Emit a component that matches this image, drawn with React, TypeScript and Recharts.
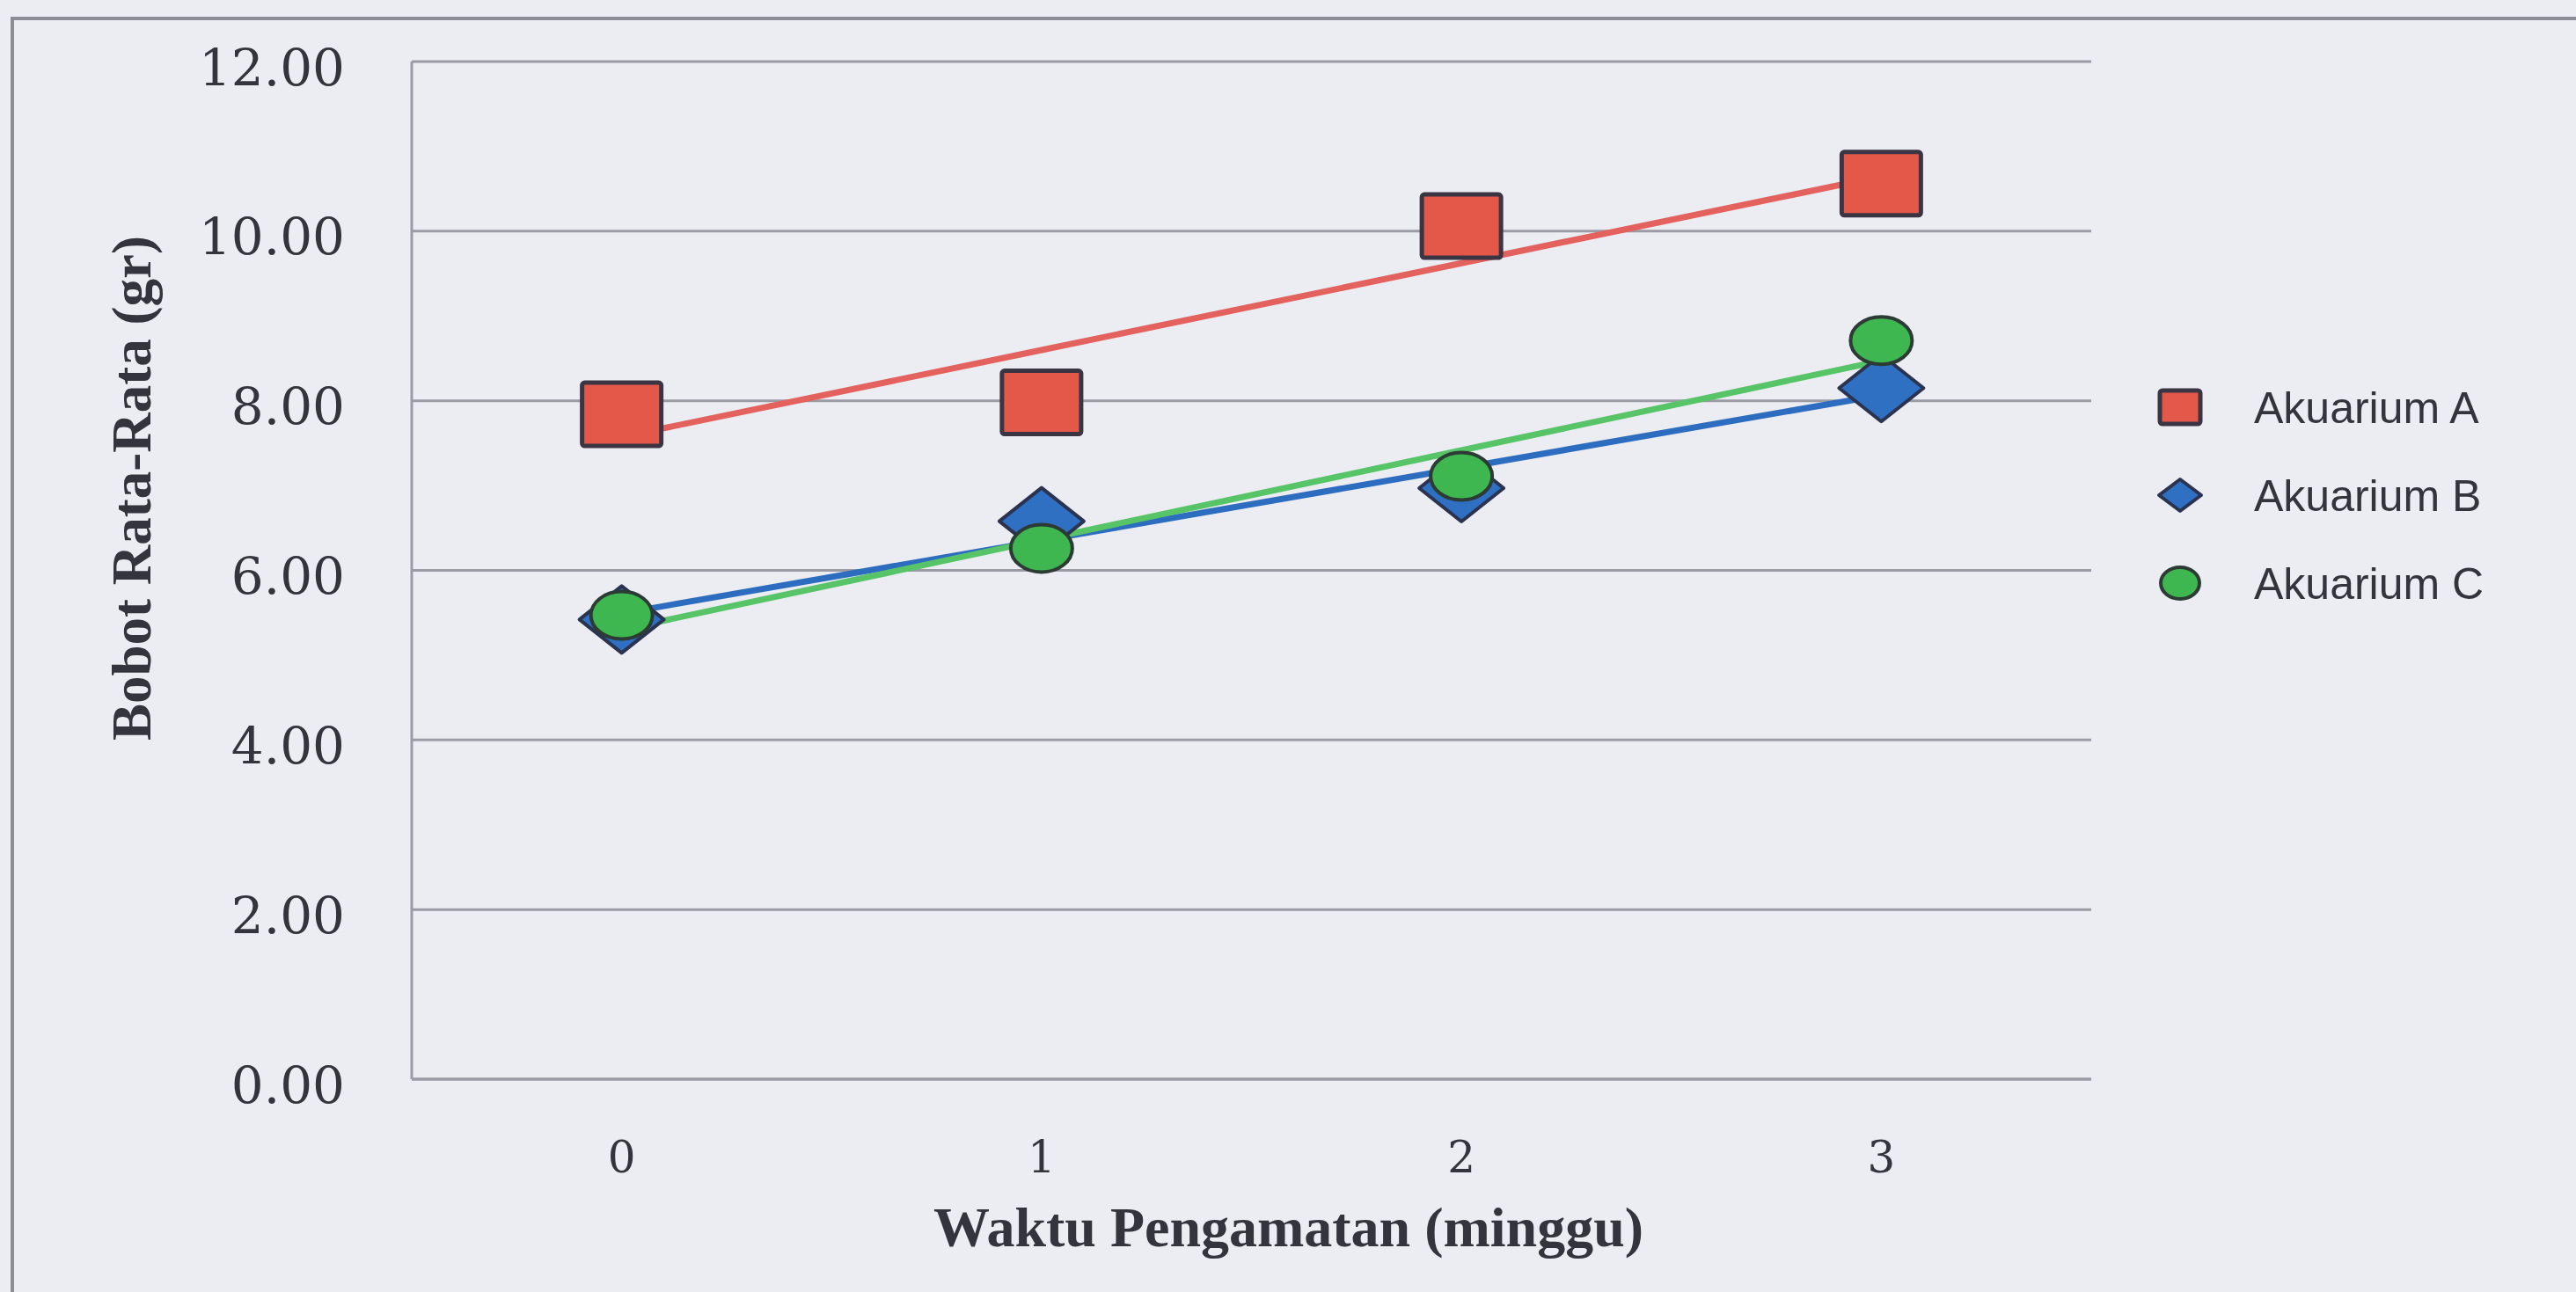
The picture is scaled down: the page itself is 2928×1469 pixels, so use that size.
import React from 'react';
import { ComposedChart, Line, XAxis, YAxis, CartesianGrid, Legend } from 'recharts';

// ---- data ----
const weeks = [0, 1, 2, 3];
const akuariumA = [7.84, 7.98, 10.06, 10.56];
const akuariumB = [5.42, 6.58, 6.97, 8.15];
const akuariumC = [5.47, 6.26, 7.11, 8.71];
const yTicks = [0, 2, 4, 6, 8, 10, 12];
const seriesNames = ['Akuarium A', 'Akuarium B', 'Akuarium C'];
const xTitle = 'Waktu Pengamatan (minggu)';
const yTitle = 'Bobot Rata-Rata (gr)';

// least-squares linear trend (Excel "linear trendline") derived from the data
function linearTrend(xs: number[], ys: number[]): number[] {
  const n = xs.length;
  const mx = xs.reduce((a, b) => a + b, 0) / n;
  const my = ys.reduce((a, b) => a + b, 0) / n;
  let sxy = 0;
  let sxx = 0;
  for (let i = 0; i < n; i++) {
    sxy += (xs[i] - mx) * (ys[i] - my);
    sxx += (xs[i] - mx) * (xs[i] - mx);
  }
  const slope = sxy / sxx;
  const intercept = my - slope * mx;
  return xs.map((x) => intercept + slope * x);
}

const trendA = linearTrend(weeks, akuariumA);
const trendB = linearTrend(weeks, akuariumB);
const trendC = linearTrend(weeks, akuariumC);

const data = weeks.map((w, i) => ({
  week: w,
  A: akuariumA[i],
  B: akuariumB[i],
  C: akuariumC[i],
  tA: trendA[i],
  tB: trendB[i],
  tC: trendC[i],
}));

const W = 2928;
const H = 1469;
const BG = '#ECECF3';
const GRID = '#9b9ba5';
const TEXT = '#34343c';

const RED_FILL = '#E4584A';
const RED_LINE = '#E4625E';
const BLUE_FILL = '#2F70C3';
const BLUE_LINE = '#2D6DBF';
const GREEN_FILL = '#3FB750';
const GREEN_LINE = '#58C468';

const SquareMark = ({ cx, cy, w = 90, h = 72 }: any) => (
  <rect x={cx - w / 2} y={cy - h / 2} width={w} height={h} fill={RED_FILL} stroke="#3b3442" strokeWidth={5} rx={3} />
);
const DiamondMark = ({ cx, cy, w = 96, h = 76 }: any) => (
  <polygon
    points={`${cx},${cy - h / 2} ${cx + w / 2},${cy} ${cx},${cy + h / 2} ${cx - w / 2},${cy}`}
    fill={BLUE_FILL}
    stroke="#2a3350"
    strokeWidth={4}
    strokeLinejoin="round"
  />
);
const CircleMark = ({ cx, cy, rx = 35, ry = 27 }: any) => (
  <ellipse cx={cx} cy={cy} rx={rx} ry={ry} fill={GREEN_FILL} stroke="#2c3b34" strokeWidth={4} />
);

const markers = [SquareMark, DiamondMark, CircleMark];
const legendMarkerSizes = [
  { w: 46, h: 38 },
  { w: 48, h: 36 },
  { rx: 22, ry: 18 },
];

const renderDot = (Mark: any) => (props: any) => {
  const { cx, cy, index } = props;
  if (cx == null || cy == null) return <g key={`d-${index}`} />;
  return <Mark key={`d-${index}`} cx={cx} cy={cy} />;
};

const LegendContent = () => (
  <svg width={420} height={300}>
    {seriesNames.map((name, i) => {
      const Mark = markers[i];
      const cy = 50 + i * 100;
      return (
        <g key={name}>
          <Mark cx={38} cy={cy} {...legendMarkerSizes[i]} />
          <text
            x={122}
            y={cy}
            dy="0.35em"
            fontFamily="Liberation Sans, Arial, sans-serif"
            fontSize={50}
            fill={TEXT}
          >
            {name}
          </text>
        </g>
      );
    })}
  </svg>
);

const YTitle = (props: any) => {
  const vb = props.viewBox || { x: 0, y: 70 };
  const x = 150;
  const y = vb.y + 485;
  return (
    <text
      x={x}
      y={y}
      transform={`rotate(-90, ${x}, ${y})`}
      textAnchor="middle"
      dominantBaseline="central"
      fontFamily="Liberation Serif, serif"
      fontWeight="bold"
      fontSize={63}
      fill={TEXT}
    >
      {yTitle}
    </text>
  );
};

export default function App() {
  return (
    <div
      style={{
        position: 'absolute',
        left: 0,
        top: 0,
        width: W,
        height: H,
        background: BG,
        overflow: 'hidden',
      }}
    >
      <div
        style={{
          position: 'absolute',
          left: 12,
          top: 19,
          width: W,
          height: H,
          borderLeft: '4px solid #8d8d96',
          borderTop: '4px solid #8d8d96',
          boxSizing: 'border-box',
        }}
      />
      <div style={{ position: 'absolute', left: 0, top: 0 }}>
        <ComposedChart width={W} height={H} data={data} margin={{ top: 70, right: 551, bottom: 0, left: 0 }}>
          <CartesianGrid vertical={false} stroke={GRID} strokeWidth={3} />
          <XAxis
            dataKey="week"
            type="number"
            domain={[-0.5, 3.5]}
            ticks={weeks}
            height={242}
            axisLine={{ stroke: GRID, strokeWidth: 3 }}
            tickLine={false}
            tickSize={0}
            tickMargin={70}
            tick={{ fontFamily: 'DejaVu Serif, serif', fontSize: 50, fill: TEXT }}
            label={{
              value: xTitle,
              position: 'insideBottom',
              offset: 52,
              dx: 42,
              fontFamily: 'Liberation Serif, serif',
              fontWeight: 'bold',
              fontSize: 64,
              fill: TEXT,
            }}
          />
          <YAxis
            type="number"
            domain={[0, 12]}
            ticks={yTicks}
            width={468}
            axisLine={{ stroke: GRID, strokeWidth: 3 }}
            tickLine={false}
            tickSize={0}
            tickMargin={76}
            tickFormatter={(v: number) => v.toFixed(2)}
            tick={{ fontFamily: 'DejaVu Serif, serif', fontSize: 58, fill: TEXT, dy: 6 }}
            label={{ content: (p: any) => <YTitle {...p} /> }}
          />
          <Line dataKey="tA" stroke={RED_LINE} strokeWidth={7} dot={false} isAnimationActive={false} legendType="none" />
          <Line dataKey="tB" stroke={BLUE_LINE} strokeWidth={7} dot={false} isAnimationActive={false} legendType="none" />
          <Line dataKey="tC" stroke={GREEN_LINE} strokeWidth={7} dot={false} isAnimationActive={false} legendType="none" />
          <Line dataKey="A" name={seriesNames[0]} stroke="none" dot={renderDot(SquareMark)} activeDot={false} isAnimationActive={false} />
          <Line dataKey="B" name={seriesNames[1]} stroke="none" dot={renderDot(DiamondMark)} activeDot={false} isAnimationActive={false} />
          <Line dataKey="C" name={seriesNames[2]} stroke="none" dot={renderDot(CircleMark)} activeDot={false} isAnimationActive={false} />
          <Legend
            layout="vertical"
            align="center"
            verticalAlign="middle"
            content={() => <LegendContent />}
            wrapperStyle={{ position: 'absolute', left: 2440, top: 413, width: 420, height: 300 }}
          />
        </ComposedChart>
      </div>
    </div>
  );
}
